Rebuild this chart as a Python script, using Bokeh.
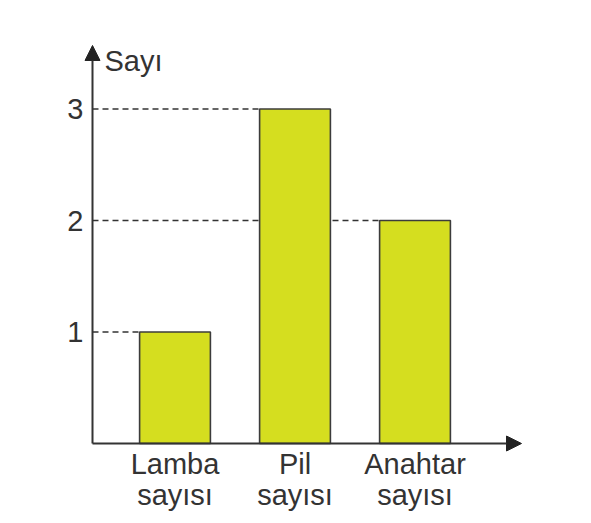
from bokeh.plotting import figure
from bokeh.models import Range1d, FixedTicker, Arrow, NormalHead, Label, ColumnDataSource
from bokeh.core.properties import value
from bokeh.embed import file_html
from bokeh.resources import INLINE

categories = ["Lamba\nsayısı", "Pil\nsayısı", "Anahtar\nsayısı"]
positions = [1, 2, 3]
values = [1, 3, 2]
y_ticks = [1, 2, 3]
y_title = "Sayı"

FONT = "Liberation Sans"
FS = "29px"
TXT = "#333333"
BAR_W = 0.59
X0 = 0.3125   # where the vertical axis crosses

p = figure(width=583, height=521, output_backend="svg", toolbar_location=None,
           x_range=Range1d(X0 - 32 / 120, 4.3375), y_range=Range1d(-0.6996, 3.794),
           min_border_left=60, min_border_right=8, min_border_top=20,
           min_border_bottom=0)
p.outline_line_color = None
p.grid.visible = False
p.background_fill_color = "white"
p.xaxis.visible = False

# y axis placed at the crossing point (labels only; the line is drawn as an arrow)
p.yaxis.fixed_location = X0
p.yaxis.ticker = FixedTicker(ticks=y_ticks)
p.yaxis.axis_line_color = None
p.yaxis.major_tick_line_color = None
p.yaxis.minor_tick_line_color = None
p.yaxis.major_label_text_font = FONT
p.yaxis.major_label_text_font_size = FS
p.yaxis.major_label_text_color = TXT
p.yaxis.major_label_standoff = 3

line1 = [c.split("\n")[0] for c in categories]
line2 = [c.split("\n")[1] for c in categories]

src = ColumnDataSource(dict(x=positions, top=values,
                            x0=[X0] * len(values),
                            x1=[v - BAR_W / 2 for v in positions],
                            l1=line1, l2=line2))

# dashed guides
p.segment(x0="x0", y0="top", x1="x1", y1="top", source=src,
          line_color="#333333", line_width=1.4, line_dash="6 4")

# bars
p.vbar(x="x", top="top", bottom=0, width=BAR_W, source=src,
       fill_color="#d5de1f", line_color="#3c3c3c", line_width=1.6)

# category labels (two lines)
p.text(x="x", y=-0.188, text="l1", source=src, text_font=value(FONT),
       text_font_size=FS, text_color=TXT, text_align="center",
       text_baseline="alphabetic")
p.text(x="x", y=-0.466, text="l2", source=src, text_font=value(FONT),
       text_font_size=FS, text_color=TXT, text_align="center",
       text_baseline="alphabetic")

# axes with arrows
p.add_layout(Arrow(end=NormalHead(size=15, fill_color="#222222", line_color="#222222"),
                   x_start=X0, y_start=0, x_end=X0, y_end=3.57,
                   line_color="#333333", line_width=2))
p.add_layout(Arrow(end=NormalHead(size=15, fill_color="#222222", line_color="#222222"),
                   x_start=X0, y_start=0, x_end=3.8875, y_end=0,
                   line_color="#333333", line_width=2))

p.add_layout(Label(x=X0 + 0.1, y=3.433, text=y_title, text_font=FONT,
                   text_font_size=FS, text_color=TXT, text_baseline="alphabetic"))

open("out.html", "w").write(file_html(p, INLINE))
